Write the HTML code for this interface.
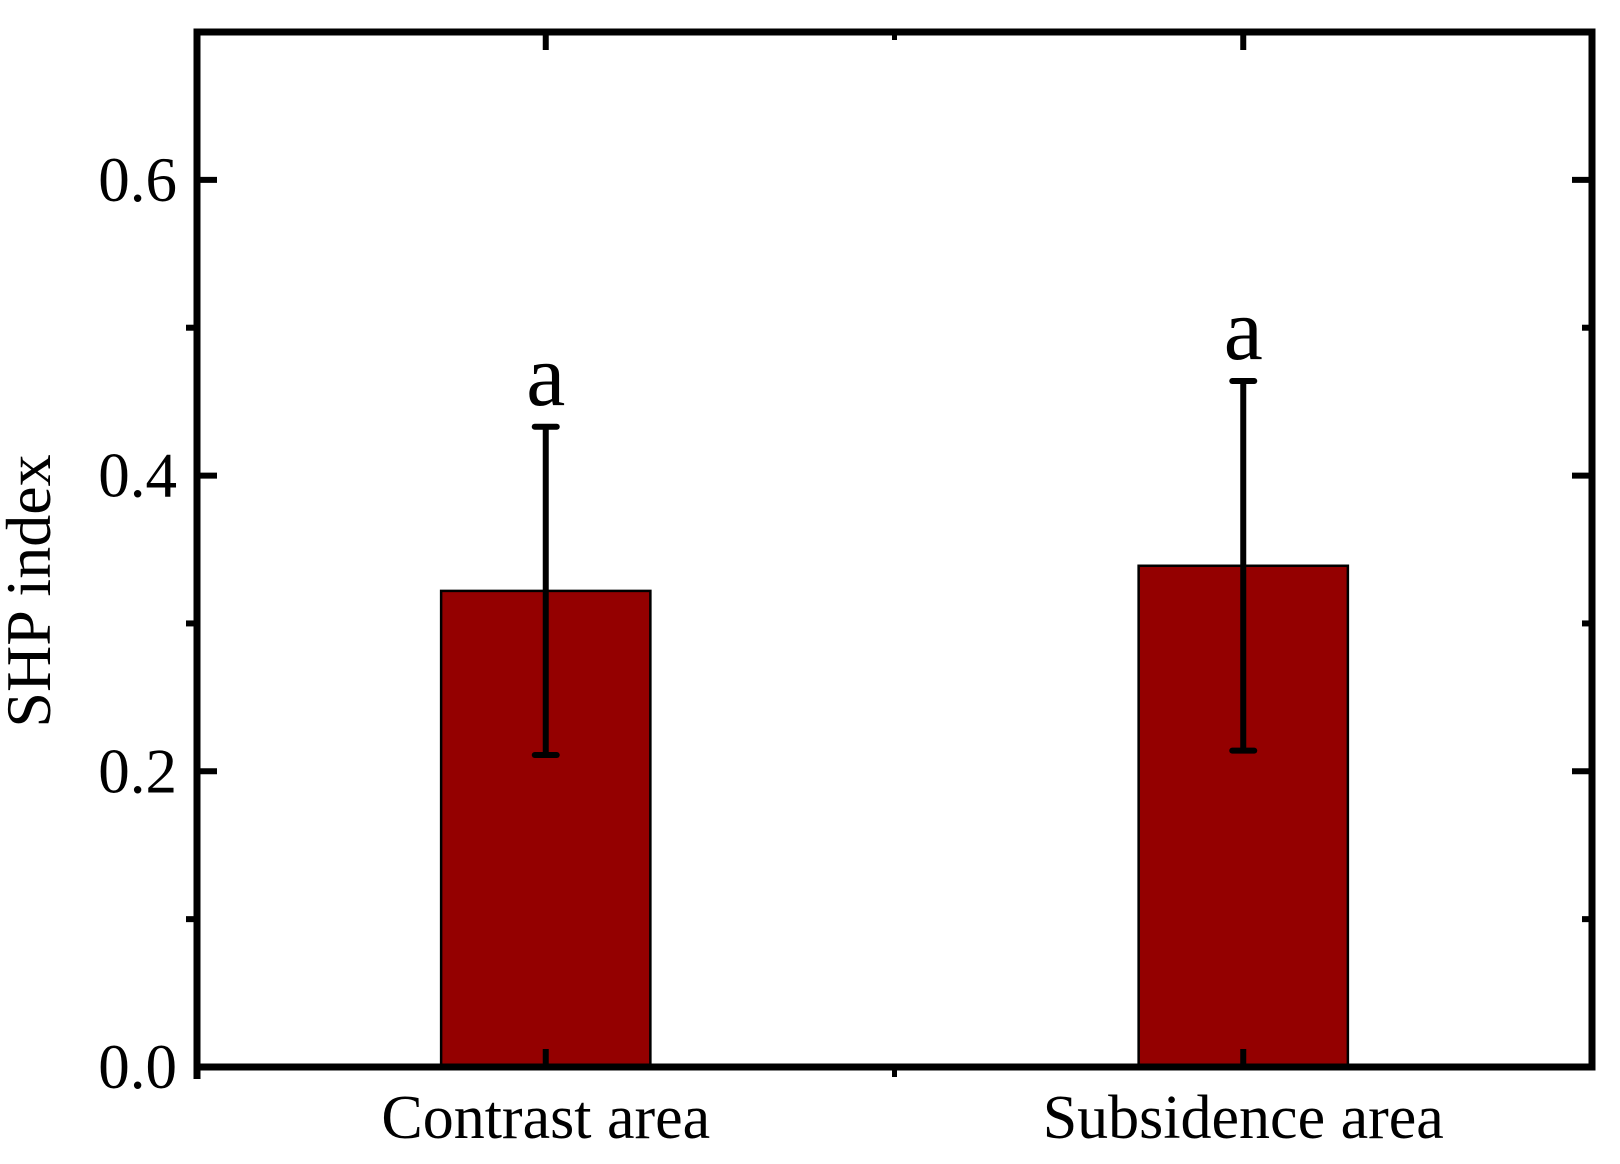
<!DOCTYPE html>
<html><head><meta charset="utf-8"><style>
html,body{margin:0;padding:0;background:#fff}
svg{display:block}
text{font-family:"Liberation Serif",serif;fill:#000}
</style></head><body>
<svg id="chart" width="1620" height="1164" viewBox="0 0 1620 1164" xmlns="http://www.w3.org/2000/svg">
<g id="bars"></g>
<g id="errs"></g>
<g id="axes"></g>
<g id="labels"></g>
<text transform="translate(50,591) rotate(-90)" text-anchor="middle" font-size="64">SHP index</text>
</svg>
<script>
const categories = ["Contrast area", "Subsidence area"];
const values = [0.322, 0.339];
const errors = [0.111, 0.125];
const sigLetters = ["a", "a"];
const yTicks = [0, 0.2, 0.4, 0.6];
const yTickLabels = ["0.0", "0.2", "0.4", "0.6"];
const yMinorTicks = [0.1, 0.3, 0.5];

const L=197,R=1592,T=32,B=1067,YMAX=0.7;
const NS="http://www.w3.org/2000/svg";
function y(v){return B-(v/YMAX)*(B-T);}
function xc(i){return L+(R-L)*(i+0.5)/categories.length;}
const band=(R-L)/categories.length, bw=band*0.3;
function mk(tag,attrs,parent){const e=document.createElementNS(NS,tag);for(const k in attrs)e.setAttribute(k,attrs[k]);document.getElementById(parent).appendChild(e);return e;}

categories.forEach((c,i)=>{
  const r=mk('rect',{x:xc(i)-bw/2,y:y(values[i]),width:bw,height:B-y(values[i]),fill:'#940000',stroke:'#000','stroke-width':2.5},'bars');
  
  
  const hi=y(values[i]+errors[i]), lo=y(values[i]-errors[i]);
  const l=mk('line',{x1:xc(i),x2:xc(i),y1:hi,y2:lo,stroke:'#000','stroke-width':6},'errs');
  
  
  [hi,lo].forEach(yy=>{
    const cp=mk('line',{x1:xc(i)-11,x2:xc(i)+11,y1:yy,y2:yy,stroke:'#000','stroke-width':6,'stroke-linecap':'round'},'errs');
    
    
  });
  const t=mk('text',{x:xc(i),y:hi-22,'text-anchor':'middle','font-size':88},'labels');
  t.textContent=sigLetters[i];
  
  
  const xl=mk('text',{x:xc(i),y:1138,'text-anchor':'middle','font-size':62},'labels');
  xl.textContent=c;
  
  
  mk('line',{x1:xc(i),x2:xc(i),y1:B,y2:B-18,stroke:'#000','stroke-width':6},'axes');
  mk('line',{x1:xc(i),x2:xc(i),y1:T,y2:T+18,stroke:'#000','stroke-width':6},'axes');
});
for(let i=1;i<categories.length;i++){
  const xm=L+band*i;
  mk('line',{x1:xm,x2:xm,y1:B,y2:B+10,stroke:'#000','stroke-width':5},'axes');
  mk('line',{x1:xm,x2:xm,y1:T,y2:T+8,stroke:'#000','stroke-width':5},'axes');
}
yTicks.forEach((v,i)=>{
  mk('line',{x1:L,x2:L+20,y1:y(v),y2:y(v),stroke:'#000','stroke-width':6},'axes');
  mk('line',{x1:R,x2:R-20,y1:y(v),y2:y(v),stroke:'#000','stroke-width':6},'axes');
  const t=mk('text',{x:L-20,y:y(v)+21,'text-anchor':'end','font-size':63},'labels');
  t.textContent=yTickLabels[i];
  
  
});
yMinorTicks.forEach(v=>{
  mk('line',{x1:L,x2:L-11,y1:y(v),y2:y(v),stroke:'#000','stroke-width':6},'axes');
  mk('line',{x1:R,x2:R-10,y1:y(v),y2:y(v),stroke:'#000','stroke-width':6},'axes');
});
const fr=mk('rect',{x:L,y:T,width:R-L,height:B-T,fill:'none',stroke:'#000','stroke-width':7},'axes');


mk('line',{x1:L,x2:L,y1:B,y2:B+12,stroke:'#000','stroke-width':7},'axes');
</script>
</body></html>
